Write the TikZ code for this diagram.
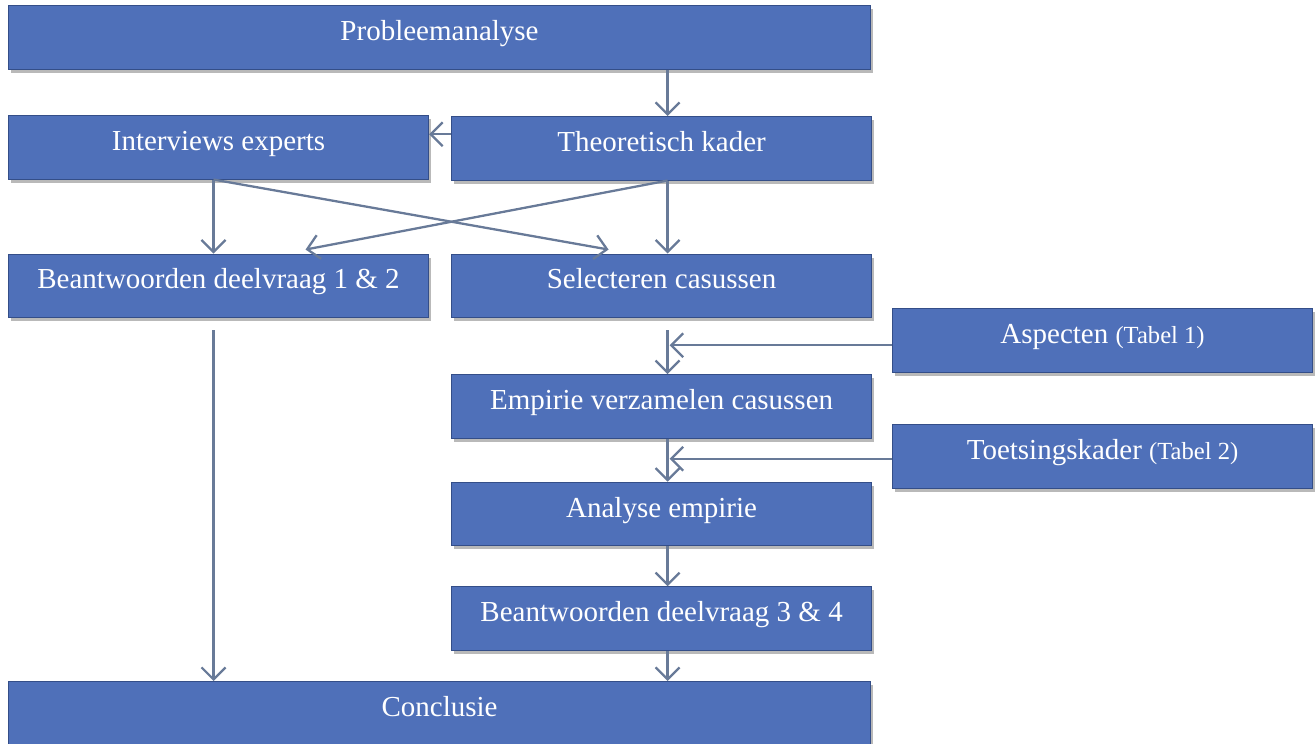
\documentclass[tikz,border=0pt]{standalone}
\usepackage{fontspec}
\setmainfont{Liberation Serif}
\usetikzlibrary{positioning, arrows.meta, shadows}
\definecolor{boxblue}{RGB}{79,112,185}
\definecolor{boxedge}{RGB}{52,78,136}
\definecolor{linkgray}{RGB}{104,122,152}
\tikzstyle{block} = [rectangle, minimum width=8.4cm, minimum height=1.27cm, text centered, text height=11pt, text depth=7.5pt, draw=boxedge, line width=0.6pt, fill=boxblue, text=white, font=\fontsize{16.5}{19}\selectfont, drop shadow={shadow xshift=0.04cm, shadow yshift=-0.07cm, opacity=0.55}]
\tikzstyle{wide} = [block, minimum width=17.24cm]
\tikzstyle{arrow} = [linkgray, line width=1.3pt, ->, >={Straight Barb[length=2.4mm, width=4.8mm]}]
\newcommand{\tabref}[1]{{\fontsize{14}{16}\selectfont(#1)}}

\begin{document}
\begin{tikzpicture}[node distance=0.44cm]
        \useasboundingbox (0,0) rectangle (26.3,-14.86);
        \node (prob) [wide, anchor=north west] at (0.16,-0.1) {Probleemanalyse};
        \node (interviews) [block, anchor=north west] at (0.16,-2.3) {Interviews experts};
        \node (theory) [block, right=0.44cm of interviews, yshift=-0.02cm] {Theoretisch kader};
        \node (answer12) [block, below=1.48cm of interviews] {Beantwoorden deelvraag 1 \& 2};
        \node (select) [block, right=0.44cm of answer12] {Selecteren casussen};
        \node (empirie) [block, below=1.12cm of select] {Empirie verzamelen casussen};
        \node (analyse) [block, below=0.86cm of empirie] {Analyse empirie};
        \node (answer34) [block, below=0.8cm of analyse] {Beantwoorden deelvraag 3 \& 4};
        \node (concl) [wide, anchor=north west] at (0.16,-13.62) {Conclusie};
        \node (aspect) [block, anchor=north west] at (17.84,-6.16) {Aspecten \tabref{Tabel 1}};
        \node (toets) [block, anchor=north west] at (17.84,-8.48) {Toetsingskader \tabref{Tabel 2}};

        % top part
        \draw [arrow] ([xshift=0.12cm]prob.south -| theory.north) -- ([xshift=0.12cm]theory.north);
        \draw [arrow] ([yshift=0.28cm]theory.west) -- ([yshift=0.28cm]theory.west -| interviews.east);
        \draw [arrow] ([xshift=-0.1cm]interviews.south) -- ([xshift=-0.1cm]answer12.north);
        \draw [arrow] ([xshift=-0.1cm]interviews.south) -- ([xshift=-1.06cm,yshift=0.08cm]select.north);
        \draw [arrow] ([xshift=0.12cm]theory.south) -- ([xshift=1.74cm,yshift=0.08cm]answer12.north);
        \draw [arrow] ([xshift=0.12cm]theory.south) -- ([xshift=0.12cm]select.north);

        % left column down to the conclusion
        \draw [arrow] ([xshift=-0.1cm,yshift=-0.24cm]answer12.south) -- ([xshift=-0.1cm]answer12.south |- concl.north);

        % right column
        \coordinate (join1) at ([xshift=0.12cm]select.south |- aspect.west);
        \coordinate (join2) at ([xshift=0.12cm]select.south |- toets.west);
        \draw [arrow] ([xshift=0.12cm,yshift=-0.24cm]select.south) -- ([xshift=0.12cm]empirie.north);
        \draw [arrow] ([yshift=-0.1cm]aspect.west) -- ([xshift=0.04cm,yshift=-0.1cm]join1);
        \draw [arrow] ([xshift=0.12cm]empirie.south) -- ([xshift=0.12cm]analyse.north);
        \draw [arrow] ([yshift=-0.05cm]toets.west) -- ([xshift=0.04cm,yshift=-0.05cm]join2);
        \draw [arrow] ([xshift=0.12cm]analyse.south) -- ([xshift=0.12cm]answer34.north);
        \draw [arrow] ([xshift=0.12cm]answer34.south) -- ([xshift=0.12cm]answer34.south |- concl.north);
    \end{tikzpicture}
\end{document}
